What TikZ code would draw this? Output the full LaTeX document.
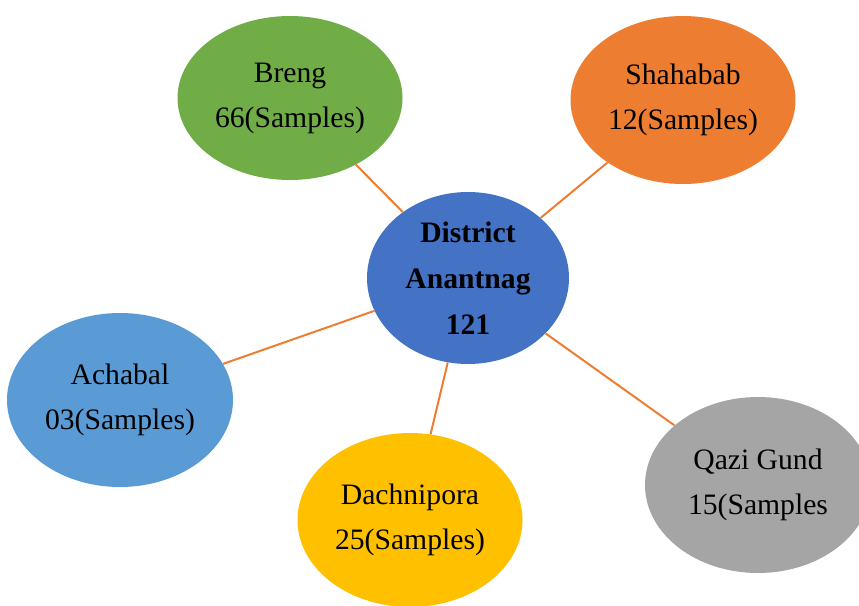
\documentclass[tikz,border=0pt]{standalone}
\usepackage{fontspec}
\setmainfont{Liberation Serif}
\usetikzlibrary{shapes.geometric}

\definecolor{hubblue}{HTML}{4472C4}
\definecolor{leafgreen}{HTML}{70AD47}
\definecolor{leaforange}{HTML}{ED7D31}
\definecolor{leafblue}{HTML}{5B9BD5}
\definecolor{leafgold}{HTML}{FFC000}
\definecolor{leafgray}{HTML}{A5A5A5}

\begin{document}
\begin{tikzpicture}[
  %% ── node styles ────────────────────────────────────────────────────
  %% Centre ellipse (district)
  HUB/.style ={ellipse, inner sep=0pt,
               minimum width=6.06cm, minimum height=5.16cm,
               align=center, fill=hubblue,
               font=\fontsize{25.3}{39.5}\selectfont\bfseries},
  %% Outer ellipses (sampling sites)
  LEAF/.style={ellipse, inner sep=0pt,
               minimum width=6.75cm, minimum height=5.1cm,
               align=center,
               font=\fontsize{25.3}{38.4}\selectfont},
  %% Connectors
  link/.style={draw=leaforange, line width=1.7pt},
]

%% ── canvas (859 x 605 px at 0.03 cm/px) ─────────────────────────────
\useasboundingbox (0,0) rectangle (25.77,-18.15);
\clip (0,0) rectangle (25.77,-18.15);

%% Centre
\node[HUB] (district) at (14.04,-8.34)
  {District\\Anantnag\\121};

%% Outer ring
\node[LEAF, fill=leafgreen, minimum height=4.92cm] (breng) at (8.70,-2.94)
  {Breng\\66(Samples)};
\node[LEAF, fill=leaforange, minimum height=5.04cm] (shahabab) at (20.49,-3.00)
  {Shahabab\\12(Samples)};
\node[LEAF, fill=leafblue, minimum width=6.78cm, minimum height=5.22cm]
  (achabal) at (3.60,-12.00)
  {Achabal\\03(Samples)};
\node[LEAF, fill=leafgold, minimum height=5.22cm] (dachnipora) at (12.30,-15.60)
  {Dachnipora\\25(Samples)};
\node[LEAF, fill=leafgray, minimum width=6.78cm, minimum height=5.28cm]
  (qazigund) at (22.74,-14.55)
  {Qazi Gund\\15(Samples};

%% Spokes
\foreach \s in {breng, shahabab, achabal, dachnipora, qazigund}
  \draw[link] (district) -- (\s);

\end{tikzpicture}
\end{document}
